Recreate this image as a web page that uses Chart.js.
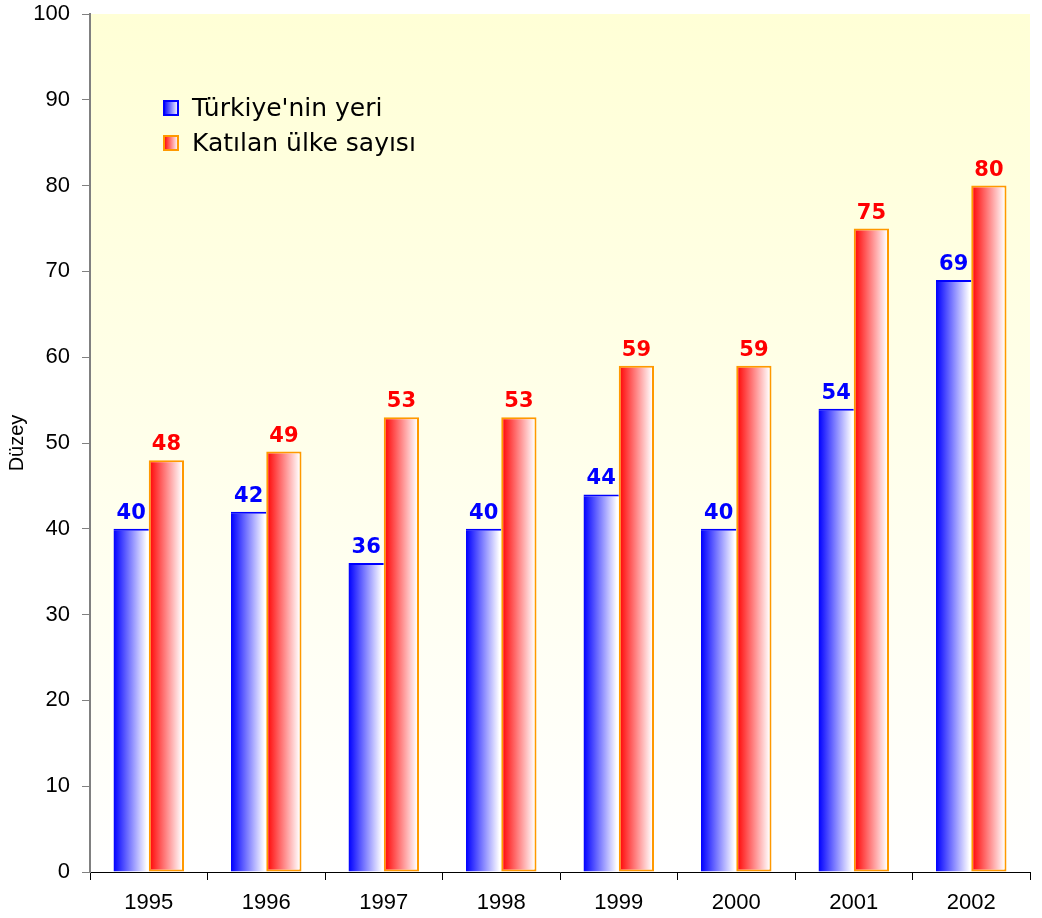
<!DOCTYPE html>
<html>
<head>
<meta charset="utf-8">
<script src="https://cdn.jsdelivr.net/npm/chart.js@4/dist/chart.umd.min.js"></script>
<style>
  html, body { margin: 0; padding: 0; background: #ffffff; }
  #wrap { width: 1042px; height: 918px; }
</style>
</head>
<body>
<div id="wrap"><canvas id="c" width="1042" height="918"></canvas></div>
<script>
const years = ['1995', '1996', '1997', '1998', '1999', '2000', '2001', '2002'];
const turkiyeRank = [40, 42, 36, 40, 44, 40, 54, 69];
const countryCount = [48, 49, 53, 53, 59, 59, 75, 80];
const seriesNames = ["Türkiye'nin yeri", 'Katılan ülke sayısı'];
const yTicks = [0, 10, 20, 30, 40, 50, 60, 70, 80, 90, 100];

const CAT_PCT = 0.6;
const AXIS_FONT = 'Liberation Sans';

// Horizontal colour-to-white fill spanning one bar
function barGradient(ctx, color) {
  const chart = ctx.chart;
  const area = chart.chartArea;
  const xs = chart.scales.x;
  if (!area || !xs || ctx.dataIndex === undefined) return color;
  const catW = (area.right - area.left) / years.length;
  const barW = catW * CAT_PCT / 2;
  const center = xs.getPixelForValue(ctx.dataIndex);
  const left = ctx.datasetIndex === 0 ? center - barW : center;
  const g = chart.ctx.createLinearGradient(left, 0, left + barW, 0);
  g.addColorStop(0, color);
  g.addColorStop(0.95, '#ffffff');
  g.addColorStop(1, '#ffffff');
  return g;
}

const plotBackground = {
  id: 'plotBackground',
  beforeDraw(chart) {
    const { ctx, chartArea: a } = chart;
    const g = ctx.createLinearGradient(0, a.top, 0, a.bottom);
    g.addColorStop(0, '#ffffd6');
    g.addColorStop(1, '#ffffff');
    ctx.save();
    ctx.fillStyle = g;
    ctx.fillRect(a.left, a.top, a.right - a.left, a.bottom - a.top);
    ctx.restore();
  }
};

const valueLabels = {
  id: 'valueLabels',
  afterDatasetsDraw(chart) {
    const ctx = chart.ctx;
    ctx.save();
    ctx.font = 'bold 21px "DejaVu Sans"';
    ctx.textAlign = 'center';
    ctx.textBaseline = 'alphabetic';
    chart.data.datasets.forEach((ds, di) => {
      const meta = chart.getDatasetMeta(di);
      ctx.fillStyle = di === 0 ? '#0000ff' : '#ff0000';
      meta.data.forEach((bar, i) => {
        ctx.fillText(String(ds.data[i]), bar.x, bar.y - 10);
      });
    });
    ctx.restore();
  }
};

const insideLegend = {
  id: 'insideLegend',
  afterDraw(chart) {
    const ctx = chart.ctx;
    const colors = [['#0000ff', '#0000ff'], ['#ff0000', '#ff9900']];
    ctx.save();
    ctx.font = '25px "DejaVu Sans"';
    ctx.textBaseline = 'middle';
    chart.data.datasets.forEach((ds, di) => {
      const x = 164, y = 101 + di * 35, s = 14;
      const g = ctx.createLinearGradient(x, 0, x + s, 0);
      g.addColorStop(0, colors[di][0]);
      g.addColorStop(1, '#ffffff');
      ctx.fillStyle = g;
      ctx.fillRect(x, y, s, s);
      ctx.strokeStyle = colors[di][1];
      ctx.lineWidth = 2;
      ctx.strokeRect(x, y, s, s);
      ctx.fillStyle = '#000000';
      ctx.fillText(ds.label, 192, y + s / 2 + 1);
    });
    ctx.restore();
  }
};

new Chart(document.getElementById('c'), {
  type: 'bar',
  data: {
    labels: years,
    datasets: [
      {
        label: seriesNames[0],
        data: turkiyeRank,
        backgroundColor: (ctx) => barGradient(ctx, '#0000ff'),
        borderColor: '#0000ff',
        borderWidth: { top: 2, left: 0, right: 0, bottom: 0 },
        borderSkipped: false,
        categoryPercentage: CAT_PCT,
        barPercentage: 1.0
      },
      {
        label: seriesNames[1],
        data: countryCount,
        backgroundColor: (ctx) => barGradient(ctx, '#ff0000'),
        borderColor: '#ff9900',
        borderWidth: 2,
        borderSkipped: false,
        categoryPercentage: CAT_PCT,
        barPercentage: 1.0
      }
    ]
  },
  options: {
    responsive: false,
    animation: false,
    layout: { padding: { top: 14, right: 12, left: 0, bottom: 0 } },
    plugins: {
      legend: { display: false },
      tooltip: { enabled: false }
    },
    scales: {
      x: {
        grid: {
          offset: true,
          drawOnChartArea: false,
          tickLength: 8,
          color: '#000000'
        },
        border: { color: '#000000', width: 1 },
        ticks: {
          color: '#000000',
          font: { family: AXIS_FONT, size: 22 },
          padding: 10
        },
        afterFit(scale) {
          scale.height = 46;
          scale.paddingLeft = 0;
          scale.paddingRight = 0;
        }
      },
      y: {
        min: 0,
        max: 100,
        afterBuildTicks(scale) { scale.ticks = yTicks.map(v => ({ value: v })); },
        grid: {
          drawOnChartArea: false,
          tickLength: 8,
          color: '#808080'
        },
        border: { color: '#808080', width: 2 },
        ticks: {
          color: '#000000',
          font: { family: AXIS_FONT, size: 22 },
          padding: 12
        },
        title: {
          display: true,
          text: 'Düzey',
          color: '#000000',
          font: { family: AXIS_FONT, size: 20 },
          padding: { top: 5, bottom: 0 }
        },
        afterFit(scale) {
          scale.width = 90;
          scale.paddingTop = 0;
          scale.paddingBottom = 0;
        }
      }
    }
  },
  plugins: [plotBackground, valueLabels, insideLegend]
});
</script>
</body>
</html>
